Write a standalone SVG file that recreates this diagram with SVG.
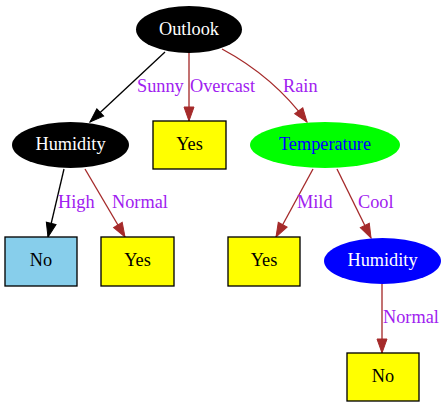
<svg xmlns="http://www.w3.org/2000/svg" width="447" height="407" viewBox="0 0 447 407">
<style>
text{font-size:18.3px}
.n{text-anchor:middle}
.lbl{fill:#a020f0}
.box{fill:#ffff00;stroke:#000;stroke-width:1.33}
.e{fill:none;stroke-width:1.33}
.eb{stroke:#000}
.er{stroke:#a52a2a}
</style>
<defs>
<marker id="ab" markerUnits="userSpaceOnUse" markerWidth="14" markerHeight="10" refX="14" refY="5" orient="auto" overflow="visible">
<path d="M0,0 L14,5 L0,10 Z" fill="#000" stroke="#000" stroke-width="1"/>
</marker>
<marker id="ar" markerUnits="userSpaceOnUse" markerWidth="14" markerHeight="10" refX="14" refY="5" orient="auto" overflow="visible">
<path d="M0,0 L14,5 L0,10 Z" fill="#a52a2a" stroke="#a52a2a" stroke-width="1"/>
</marker>
</defs>
<rect width="447" height="407" fill="#fff"/>
<g font-family="'Liberation Serif', 'Times New Roman', 'DejaVu Serif', serif">
<g id="edges">
<path class="e eb" d="M165,52 L90,122" marker-end="url(#ab)"/>
<path class="e er" d="M189,53 L189,121" marker-end="url(#ar)"/>
<path class="e er" d="M222,49 C250,64 282,88 307,122" marker-end="url(#ar)"/>
<path class="e eb" d="M64,169 L48,237" marker-end="url(#ab)"/>
<path class="e er" d="M85,169 L125,237" marker-end="url(#ar)"/>
<path class="e er" d="M313,169 L276,237" marker-end="url(#ar)"/>
<path class="e er" d="M337,169 L371,238" marker-end="url(#ar)"/>
<path class="e er" d="M382,284 L382,353" marker-end="url(#ar)"/>
<text class="lbl" x="137" y="92">Sunny</text>
<text class="lbl" x="190" y="92">Overcast</text>
<text class="lbl" x="283" y="92">Rain</text>
<text class="lbl" x="58" y="208">High</text>
<text class="lbl" x="112" y="208">Normal</text>
<text class="lbl" x="297" y="208">Mild</text>
<text class="lbl" x="358" y="208">Cool</text>
<text class="lbl" x="383" y="323">Normal</text>
</g>
<g id="outlook">
<ellipse cx="189" cy="29.5" rx="53" ry="23.5" fill="#000"/>
<text class="n" x="189" y="34.5" fill="#fff">Outlook</text>
</g>
<g id="humidity1">
<ellipse cx="70.5" cy="145" rx="58.5" ry="23" fill="#000"/>
<text class="n" x="70.5" y="150" fill="#fff">Humidity</text>
</g>
<g id="yes1">
<rect class="box" x="153" y="121" width="73" height="48"/>
<text class="n" x="189.5" y="150">Yes</text>
</g>
<g id="temperature">
<ellipse cx="325" cy="145" rx="75" ry="23" fill="#00ff00"/>
<text class="n" x="325" y="150" fill="#0000ff">Temperature</text>
</g>
<g id="no1">
<rect x="5" y="237" width="72" height="49" fill="#87ceeb" stroke="#000" stroke-width="1.33"/>
<text class="n" x="41" y="266">No</text>
</g>
<g id="yes2">
<rect class="box" x="101" y="237" width="73" height="49"/>
<text class="n" x="137.5" y="266">Yes</text>
</g>
<g id="yes3">
<rect class="box" x="228" y="237" width="72" height="49"/>
<text class="n" x="264" y="266">Yes</text>
</g>
<g id="humidity2">
<ellipse cx="382.5" cy="261" rx="58.5" ry="23" fill="#0000ff"/>
<text class="n" x="382.5" y="266" fill="#fff">Humidity</text>
</g>
<g id="no2">
<rect class="box" x="347" y="353" width="72" height="48"/>
<text class="n" x="383" y="382">No</text>
</g>
</g>
</svg>
